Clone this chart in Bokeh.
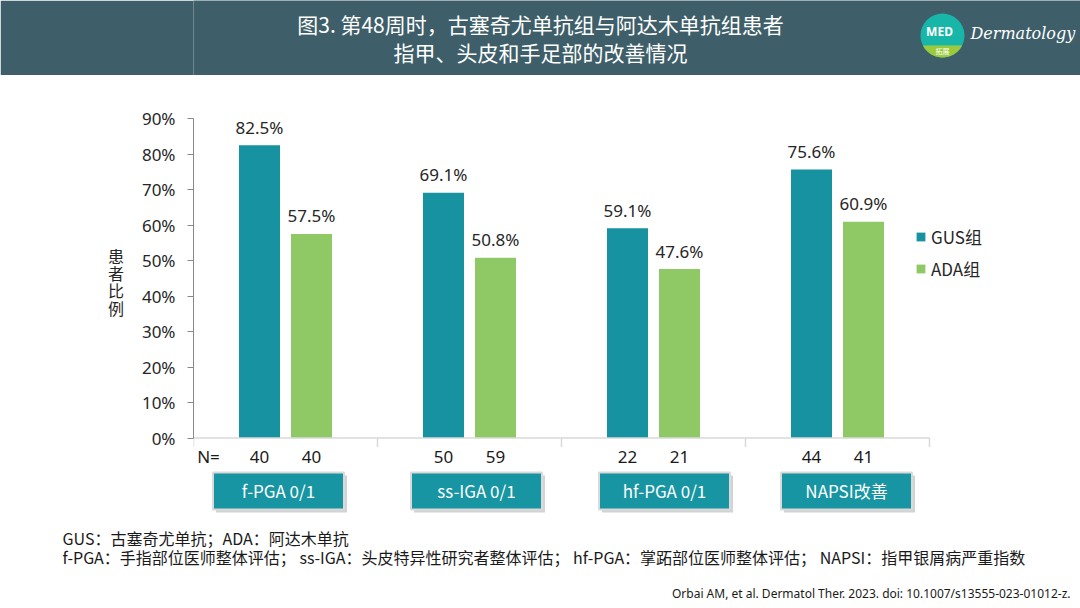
from bokeh.plotting import figure
from bokeh.layouts import column
from bokeh.models import ColumnDataSource, Range1d, Legend, LegendItem, Title
from bokeh.core.properties import value
from bokeh.embed import file_html
from bokeh.resources import INLINE
import numpy as np

# data
categories = ["f-PGA 0/1", "ss-IGA 0/1", "hf-PGA 0/1", "NAPSI改善"]
gus_pct = [82.5, 69.1, 59.1, 75.6]
ada_pct = [57.5, 50.8, 47.6, 60.9]
gus_n = [40, 50, 22, 44]
ada_n = [40, 59, 21, 41]
y_ticks = [0, 10, 20, 30, 40, 50, 60, 70, 80, 90]

title_lines = ["图3. 第48周时，古塞奇尤单抗组与阿达木单抗组患者", "指甲、头皮和手足部的改善情况"]
notes = ["GUS：古塞奇尤单抗；ADA：阿达木单抗",
         "f-PGA：手指部位医师整体评估； ss-IGA：头皮特异性研究者整体评估； hf-PGA：掌跖部位医师整体评估； NAPSI：指甲银屑病严重指数"]
citation = "Orbai AM, et al. Dermatol Ther. 2023. doi: 10.1007/s13555-023-01012-z."

GUS_C = "#1692A0"
ADA_C = "#8FC966"
HEAD_C = "#3E5F6A"
CJK = "Noto Sans CJK SC"
LAT = "Noto Sans"

W = 1080
LEFT = 193
HEAD_H, LINE_H, MAIN_H, FOOT_H = 75, 2, 443, 88


def bare(fig):
    fig.xgrid.visible = False
    fig.ygrid.visible = False
    fig.outline_line_color = None
    return fig


def strip(h):
    # plain panel where one data unit is one pixel
    return bare(figure(width=W, height=h, x_range=Range1d(LEFT, W), y_range=Range1d(h, 0),
                       x_axis_location=None, y_axis_location=None,
                       min_border_left=LEFT, min_border_right=0, min_border_top=0, min_border_bottom=0,
                       output_backend="svg", toolbar_location=None))


# ---- header bar
head = strip(HEAD_H)
head.background_fill_color = HEAD_C
head.border_fill_color = HEAD_C
head.text(x=[540, 540], y=[23, 51], text=title_lines, text_align="center", text_baseline="middle",
          text_font=value(CJK), text_font_size="21px", text_color="white")

# logo
cx, cy, r = 942, 35, 22
head.circle(x=[cx], y=[cy], radius=r, fill_color="#17B6A8", line_color=None)
a0 = np.arcsin(10 / r)
th = np.linspace(a0, np.pi - a0, 40)
head.patch(x=cx + r * np.cos(th), y=cy + r * np.sin(th), fill_color="#9BCB3C", line_color=None)
head.text(x=[cx - 3], y=[cy - 4], text=["MED"], text_align="center", text_baseline="middle",
          text_font=value(LAT), text_font_size="12px", text_font_style="bold", text_color="white")
head.text(x=[cx], y=[cy + 15], text=["拓展"], text_align="center", text_baseline="middle",
          text_font=value(CJK), text_font_size="7px", text_color="white")
head.text(x=[970], y=[33], text=["Dermatology"], text_align="left", text_baseline="middle",
          text_font=value("DejaVu Serif"), text_font_style="italic", text_font_size="16px",
          text_color="white")

rule = strip(LINE_H)
rule.background_fill_color = "#4A78B5"
rule.border_fill_color = "#4A78B5"

# ---- main chart
PX_X = 184.0          # pixels per category
PX_Y = 3.55           # pixels per percent
ZERO = 437.5 - (HEAD_H + LINE_H)   # pixel row of 0% inside the main panel
p = bare(figure(width=W, height=MAIN_H,
                x_range=Range1d(0, (W - LEFT) / PX_X),
                y_range=Range1d(-(MAIN_H - ZERO) / PX_Y, ZERO / PX_Y),
                x_axis_location=None, min_border_left=LEFT, min_border_right=0,
                min_border_top=0, min_border_bottom=0,
                output_backend="svg", toolbar_location=None))

idx = np.arange(len(categories))
off = 26 / PX_X
bw = 41 / PX_X
gus_src = ColumnDataSource(dict(x=idx + 0.5 - off, top=gus_pct, n=[str(v) for v in gus_n],
                                lab=[f"{v}%" for v in gus_pct]))
ada_src = ColumnDataSource(dict(x=idx + 0.5 + off, top=ada_pct, n=[str(v) for v in ada_n],
                                lab=[f"{v}%" for v in ada_pct]))

r_gus = p.vbar(x="x", top="top", bottom=0, width=bw, source=gus_src, fill_color=GUS_C, line_color=None)
r_ada = p.vbar(x="x", top="top", bottom=0, width=bw, source=ada_src, fill_color=ADA_C, line_color=None)

for src in (gus_src, ada_src):
    p.text(x="x", y="top", text="lab", source=src, text_align="center", text_baseline="middle",
           y_offset=-18, text_font=value(LAT), text_font_size="17px", text_color="#262626")
    p.text(x="x", y=-5.3, text="n", source=src, text_align="center", text_baseline="middle",
           text_font=value(LAT), text_font_size="17px", text_color="#1a1a1a")
p.text(x=[0.02], y=[-5.3], text=["N="], text_align="left", text_baseline="middle",
       text_font=value(LAT), text_font_size="17px", text_color="#1a1a1a")

# baseline and category separators
p.segment(x0=0, y0=0, x1=len(categories), y1=0, line_color="#D9D9D9", line_width=1.5)
p.segment(x0=np.arange(len(categories) + 1), y0=0, x1=np.arange(len(categories) + 1),
          y1=-2.5, line_color="#D9D9D9", line_width=1.5)

# category label boxes
box_shift = np.array([-7, 7, 11, 9]) / PX_X
box_x = idx + 0.5 + box_shift
box_y = -14.9
p.rect(x=box_x + 3 / PX_X, y=box_y - 3 / PX_Y, width=131 / PX_X, height=37 / PX_Y,
       fill_color="#9E9E9E", fill_alpha=0.45, line_color=None)
p.rect(x=box_x, y=box_y, width=131 / PX_X, height=37 / PX_Y,
       fill_color="#1795A3", line_color="#DADADA", line_width=2)
p.text(x=box_x, y=box_y, text=categories, text_align="center", text_baseline="middle",
       text_font=value(CJK), text_font_size="17px", text_color="white")

# y axis
p.yaxis.bounds = (0, 90)
p.yaxis.ticker = y_ticks
p.yaxis.major_label_overrides = {t: f"{t}%" for t in y_ticks}
p.yaxis.major_label_text_font = LAT
p.yaxis.major_label_text_font_size = "17px"
p.yaxis.major_label_text_color = "#262626"
p.yaxis.major_label_standoff = 12
p.yaxis.axis_line_color = "#898989"
p.yaxis.major_tick_line_color = "#898989"
p.yaxis.major_tick_out = 6
p.yaxis.major_tick_in = 0
p.yaxis.minor_tick_line_color = None
# trailing blank lines lift the stacked label onto the middle of the 0-90% span
p.yaxis.axis_label = "患\n者\n比\n例\n\n"
p.yaxis.axis_label_orientation = "horizontal"
p.yaxis.axis_label_standoff = 15
p.yaxis.axis_label_text_font = CJK
p.yaxis.axis_label_text_font_size = "16px"
p.yaxis.axis_label_text_font_style = "normal"
p.yaxis.axis_label_text_color = "#262626"
p.yaxis.axis_label_text_line_height = 0.72

legend = Legend(items=[LegendItem(label="GUS组", renderers=[r_gus]),
                       LegendItem(label="ADA组", renderers=[r_ada])],
                location=(722, 239), glyph_width=11, glyph_height=11, label_height=20,
                spacing=7, padding=0, margin=0, label_standoff=5,
                label_text_font=CJK, label_text_font_size="17px", label_text_color="#262626",
                border_line_color=None, background_fill_alpha=0)
p.add_layout(legend)

# ---- footnotes
foot = strip(FOOT_H)
foot.add_layout(Title(text="\n".join(notes), align="left", offset=62 - LEFT, standoff=10,
                      vertical_align="top", text_font=CJK, text_font_size="16px",
                      text_font_style="normal", text_color="#1a1a1a", text_line_height=0.8),
                "above")
foot.add_layout(Title(text=citation, align="right", offset=10, standoff=14,
                      vertical_align="bottom", text_font=LAT, text_font_size="12px",
                      text_font_style="normal", text_color="#1a1a1a"),
                "below")

layout = column(head, rule, p, foot, spacing=0)
open("out.html", "w").write(file_html(layout, INLINE))
